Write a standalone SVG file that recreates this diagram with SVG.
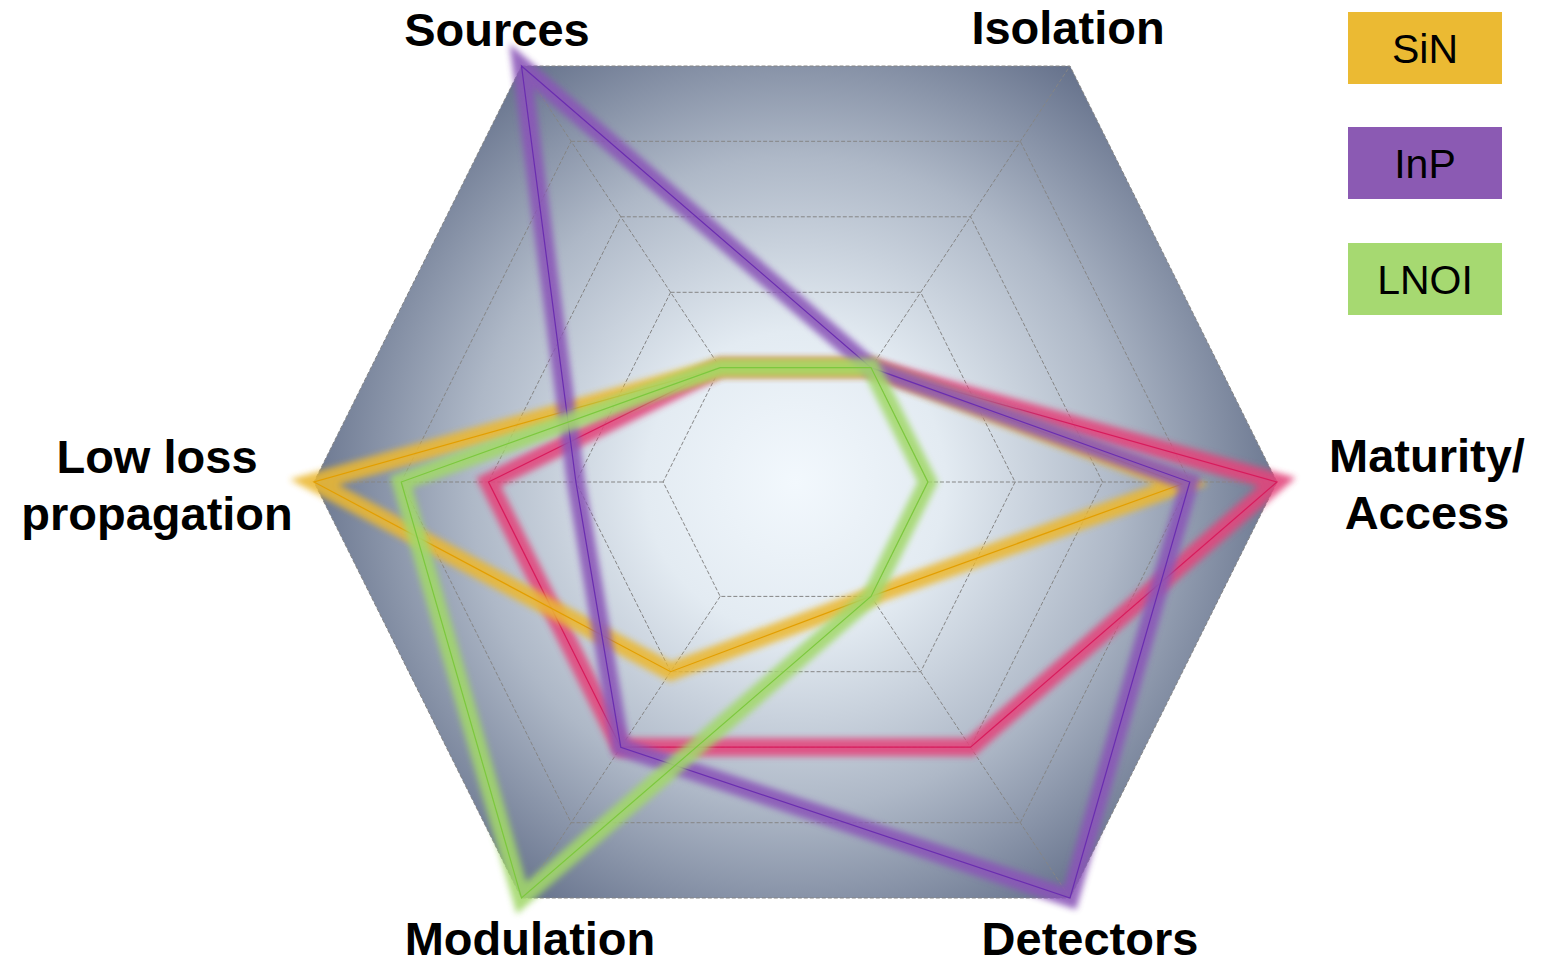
<svg xmlns="http://www.w3.org/2000/svg" width="1557" height="966" viewBox="0 0 1557 966">
<defs>
<radialGradient id="bg" gradientUnits="userSpaceOnUse" cx="795.5" cy="482" r="500">
<stop offset="0" stop-color="#F2F8FD"/>
<stop offset="0.3" stop-color="#E3EBF2"/>
<stop offset="0.65" stop-color="#AEB8C7"/>
<stop offset="1" stop-color="#65718B"/>
</radialGradient>
<filter id="glow" x="-10%" y="-10%" width="120%" height="120%">
<feGaussianBlur stdDeviation="3.4"/>
</filter>
<style>
.ring{fill:none;stroke:#858585;stroke-width:1;stroke-dasharray:4 2}
.glow{fill:none;stroke-width:18;stroke-linejoin:miter;stroke-miterlimit:10;filter:url(#glow);opacity:0.88}
.core{fill:none;stroke-width:1.2;stroke-linejoin:miter}
.lbl{font-family:"Liberation Sans",Arial,sans-serif;font-weight:bold;font-size:47px;fill:#000;text-anchor:middle}
.leg{font-family:"Liberation Sans",Arial,sans-serif;font-size:41px;fill:#000;text-anchor:middle}
</style>
</defs>
<rect width="1557" height="966" fill="#FFFFFF"/>
<g id="chart-bg">
<polygon points="521.5,66 1070,66 1277,482 1070,898 521.5,898 314,482" fill="url(#bg)"/>
</g>
<g id="grid">
<polygon class="ring" points="720.2,367.6 871,367.6 927.9,482 871,596.4 720.2,596.4 663.1,482"/>
<polygon class="ring" points="670.6,292.3 920.7,292.3 1015.1,482 920.7,671.7 670.6,671.7 575.9,482"/>
<polygon class="ring" points="620.8,216.8 970.5,216.8 1102.5,482 970.5,747.2 620.8,747.2 488.5,482"/>
<polygon class="ring" points="571.1,141.3 1020.3,141.3 1189.8,482 1020.3,822.7 571.1,822.7 401.2,482"/>
<polygon class="ring" points="521.5,66 1070,66 1277,482 1070,898 521.5,898 314,482"/>
<path class="ring" d="M720.2,367.6L521.5,66M871,367.6L1070,66M927.9,482L1277,482M871,596.4L1070,898M720.2,596.4L521.5,898M663.1,482L314,482"/>
</g>
<g id="connectors">
<g id="series-si">
<polygon class="glow" stroke="#E3457C" points="720.2,367.6 871,367.6 1277,482 970.5,747.2 620.8,747.2 488.5,482"/>
<polygon class="core" stroke="#D81B5C" points="720.2,367.6 871,367.6 1277,482 970.5,747.2 620.8,747.2 488.5,482"/>
</g>
<g id="series-sin">
<polygon class="glow" stroke="#EBB830" points="720.2,367.6 871,367.6 1182,484 871,596.4 670.6,671.7 314,482"/>
<polygon class="core" stroke="#E39E00" points="720.2,367.6 871,367.6 1182,484 871,596.4 670.6,671.7 314,482"/>
</g>
<g id="series-inp">
<polygon class="glow" stroke="#8A55B8" points="521.5,66 871,367.6 1189.8,482 1070,898 620.8,747.2 575.9,482"/>
<polygon class="core" stroke="#6A2DB0" points="521.5,66 871,367.6 1189.8,482 1070,898 620.8,747.2 575.9,482"/>
</g>
<g id="series-lnoi">
<polygon class="glow" stroke="#A2D86B" points="720.2,367.6 871,367.6 927.9,482 871,596.4 521.5,898 401.2,482"/>
<polygon class="core" stroke="#7CC83E" points="720.2,367.6 871,367.6 927.9,482 871,596.4 521.5,898 401.2,482"/>
</g>
</g>
<g id="label-sources"><text class="lbl" x="497" y="46">Sources</text></g>
<g id="label-isolation"><text class="lbl" x="1068" y="44">Isolation</text></g>
<g id="label-maturity"><text class="lbl" x="1427" y="472">Maturity/</text><text class="lbl" x="1427" y="529">Access</text></g>
<g id="label-lowloss"><text class="lbl" x="157" y="473">Low loss</text><text class="lbl" x="157" y="530">propagation</text></g>
<g id="label-modulation"><text class="lbl" x="530" y="955">Modulation</text></g>
<g id="label-detectors"><text class="lbl" x="1090" y="955">Detectors</text></g>
<g id="legend-sin"><rect x="1348" y="12" width="154" height="72" fill="#EBBA33"/><text class="leg" x="1425" y="63">SiN</text></g>
<g id="legend-inp"><rect x="1348" y="127" width="154" height="72" fill="#8B5AB3"/><text class="leg" x="1425" y="178">InP</text></g>
<g id="legend-lnoi"><rect x="1348" y="243" width="154" height="72" fill="#A6D971"/><text class="leg" x="1425" y="294">LNOI</text></g>
</svg>
